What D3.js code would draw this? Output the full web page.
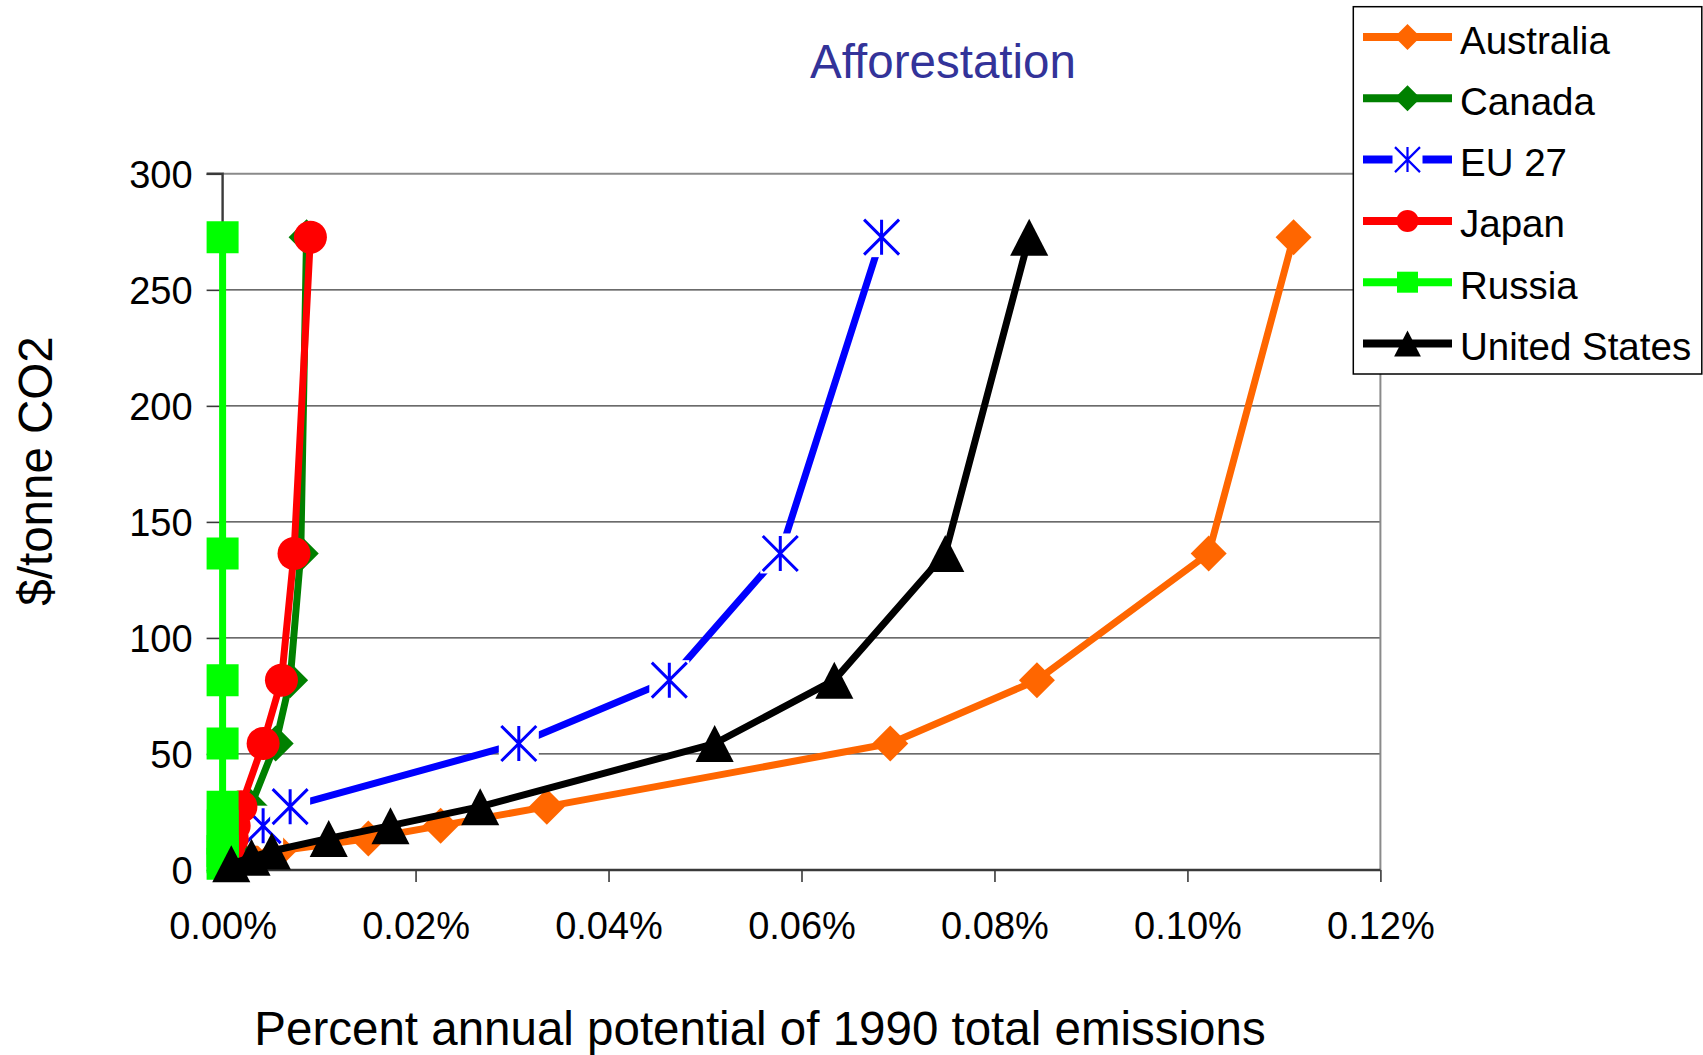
<!DOCTYPE html>
<html>
<head>
<meta charset="utf-8">
<script src="https://cdn.jsdelivr.net/npm/d3@7"></script>
<style>
  body { margin: 0; background: #fff; }
  svg { display: block; font-family: "Liberation Sans", Arial, sans-serif; }
</style>
</head>
<body>
<svg id="chart" width="1703" height="1055"></svg>
<script>
// Carbon price points ($/tonne CO2) shared by the supply curves
const costs = [2.7, 5.5, 8.2, 13.6, 19.1, 27.3, 54.5, 81.8, 136.4, 272.7];
// EU 27 only reports the upper price points
const euCosts = [19.1, 27.3, 54.5, 81.8, 136.4, 272.7];

// Annual sequestration potential, % of 1990 total emissions, one value per price point
const australiaPct = [0.0009, 0.0030, 0.0058, 0.0151, 0.0226, 0.0336, 0.0692, 0.0844, 0.1022, 0.1110];
const canadaPct    = [0.0003, 0.0007, 0.0011, 0.0015, 0.0020, 0.0029, 0.0055, 0.0070, 0.0081, 0.0087];
const eu27Pct      = [0.0042, 0.0070, 0.0307, 0.0463, 0.0578, 0.0683];
const japanPct     = [0.0002, 0.0004, 0.0006, 0.0010, 0.0012, 0.0019, 0.0042, 0.0061, 0.0074, 0.0091];
const russiaPct    = [0, 0, 0, 0, 0, 0, 0, 0, 0, 0];
const usPct        = [0.0009, 0.0030, 0.0051, 0.0110, 0.0174, 0.0267, 0.0510, 0.0634, 0.0749, 0.0836];

const seriesNames = ["Australia", "Canada", "EU 27", "Japan", "Russia", "United States"];
const xTicks = [0, 0.02, 0.04, 0.06, 0.08, 0.10, 0.12];
const yTicks = [0, 50, 100, 150, 200, 250, 300];

const titleText = "Afforestation";
const xTitle = "Percent annual potential of 1990 total emissions";
const yTitle = "$/tonne CO2";

// Visual styling per series
const style = {
  "Australia":     { color: "#FF6600", shape: "diamond" },
  "Canada":        { color: "#008000", shape: "diamond" },
  "EU 27":         { color: "#0000FF", shape: "star" },
  "Japan":         { color: "#FF0000", shape: "circle" },
  "Russia":        { color: "#00FF00", shape: "square" },
  "United States": { color: "#000000", shape: "triangle" }
};

const seriesData = [
  { name: seriesNames[0], cost: costs,   pct: australiaPct },
  { name: seriesNames[1], cost: costs,   pct: canadaPct },
  { name: seriesNames[2], cost: euCosts, pct: eu27Pct },
  { name: seriesNames[3], cost: costs,   pct: japanPct },
  { name: seriesNames[4], cost: costs,   pct: russiaPct },
  { name: seriesNames[5], cost: costs,   pct: usPct }
].map(s => ({ name: s.name, points: s.cost.map((c, i) => ({ c, p: s.pct[i] })) }));

const svg = d3.select("#chart");
const plotL = 222.6, plotR = 1380.4, plotT = 173.8, plotB = 870;

const x = d3.scaleLinear().domain([0, 0.12]).range([plotL, plotR]);
const y = d3.scaleLinear().domain([0, 300]).range([plotB, plotT]);

// Horizontal gridlines
const grid = svg.append("g");
grid.selectAll("line").data(yTicks.filter(v => v > 0 && v < 300)).join("line")
  .attr("x1", plotL).attr("x2", plotR)
  .attr("y1", d => y(d)).attr("y2", d => y(d))
  .attr("stroke", "#3a3a3a").attr("stroke-width", 1.3);

// Plot frame: top and right sides in grey
svg.append("line").attr("x1", plotL).attr("x2", plotR).attr("y1", y(300)).attr("y2", y(300))
  .attr("stroke", "#8a8a8a").attr("stroke-width", 2);
svg.append("line").attr("x1", plotR).attr("x2", plotR).attr("y1", y(300)).attr("y2", y(0))
  .attr("stroke", "#8a8a8a").attr("stroke-width", 2);

// Y axis
const yAxis = svg.append("g").attr("transform", `translate(${plotL},0)`)
  .call(d3.axisLeft(y).tickValues(yTicks).tickSize(16).tickPadding(14).tickFormat(d3.format("d")));
// X axis
const xAxis = svg.append("g").attr("transform", `translate(0,${plotB})`)
  .call(d3.axisBottom(x).tickValues(xTicks).tickSize(12).tickPadding(30)
    .tickFormat(d => d.toFixed(2) + "%"));

[yAxis, xAxis].forEach(ax => {
  ax.select(".domain").attr("stroke", "#3a3a3a").attr("stroke-width", 2.4);
  ax.selectAll(".tick line").attr("stroke", "#3a3a3a").attr("stroke-width", 1.6);
  ax.selectAll(".tick text").attr("fill", "#000").attr("font-size", 38)
    .attr("font-family", "'Liberation Sans', Arial, sans-serif");
});
yAxis.select(".domain").attr("d", `M-16,${y(300)}H0V${y(0)}`);
xAxis.select(".domain").attr("d", `M${plotL},0H${plotR}`);
yAxis.selectAll(".tick text").attr("dy", "0.36em");
xAxis.selectAll(".tick text").attr("dy", "0.71em");

// Marker shapes centred on (0,0)
function shapePath(shape, s) {
  const h = s / 2;
  switch (shape) {
    case "diamond":  return `M0,${-h}L${h},0L0,${h}L${-h},0Z`;
    case "square":   return `M${-h},${-h}H${h}V${h}H${-h}Z`;
    case "triangle": return `M0,${-h}L${h * 1.03},${h}L${-h * 1.03},${h}Z`;
    case "circle":   return `M${h},0A${h},${h} 0 1 1 ${-h},0A${h},${h} 0 1 1 ${h},0Z`;
  }
  return "";
}
const plotSize = { diamond: 36, square: 32, triangle: 37, circle: 33, star: 35 };
const legendSize = { diamond: 26, square: 21, triangle: 26, circle: 22, star: 25 };

function drawMarker(g, shape, color, s, sw) {
  if (shape === "star") {
    // asterisk on a white backing square
    const h = s / 2, b = h + 2.5;
    g.append("rect").attr("x", -b).attr("y", -b).attr("width", 2 * b).attr("height", 2 * b)
      .attr("fill", "#fff");
    g.append("path")
      .attr("d", `M0,${-h}V${h}M${-h},${-h}L${h},${h}M${h},${-h}L${-h},${h}`)
      .attr("stroke", color).attr("stroke-width", sw).attr("fill", "none");
  } else {
    g.append("path").attr("d", shapePath(shape, s)).attr("fill", color);
  }
}

const line = d3.line().x(d => x(d.p)).y(d => y(d.c));

// Series drawn in order: line, then its markers
seriesData.forEach(s => {
  const st = style[s.name];
  const g = svg.append("g");
  g.append("path").datum(s.points).attr("d", line)
    .attr("fill", "none").attr("stroke", st.color).attr("stroke-width", 7)
    .attr("stroke-linejoin", "round").attr("stroke-linecap", "round");
  s.points.forEach(d => {
    const m = g.append("g").attr("transform", `translate(${x(d.p)},${y(d.c)})`);
    drawMarker(m, st.shape, st.color, plotSize[st.shape], 3);
  });
});

// Title
svg.append("text").attr("x", 943).attr("y", 78).attr("text-anchor", "middle")
  .attr("font-size", 47.5).attr("fill", "#333399").text(titleText);

// Axis titles
svg.append("text").attr("x", 760).attr("y", 1045).attr("text-anchor", "middle")
  .attr("font-size", 47.5).attr("fill", "#000").text(xTitle);
svg.append("text").attr("transform", "translate(52,471) rotate(-90)").attr("text-anchor", "middle")
  .attr("font-size", 47.5).attr("fill", "#000").text(yTitle);

// Legend
const lg = svg.append("g");
lg.append("rect").attr("x", 1353.3).attr("y", 6.7).attr("width", 348.5).attr("height", 367.3)
  .attr("fill", "#fff").attr("stroke", "#000").attr("stroke-width", 1.5);
seriesNames.forEach((name, i) => {
  const st = style[name];
  const cy = 37 + i * 61.3;
  const row = lg.append("g").attr("transform", `translate(0,${cy})`);
  row.append("line").attr("x1", 1363).attr("x2", 1452).attr("y1", 0).attr("y2", 0)
    .attr("stroke", st.color).attr("stroke-width", 8);
  drawMarker(row.append("g").attr("transform", "translate(1407.5,0)"), st.shape, st.color, legendSize[st.shape], 2.2);
  row.append("text").attr("x", 1460).attr("y", 16.5).attr("font-size", 38.5).attr("fill", "#000").text(name);
});
</script>
</body>
</html>
